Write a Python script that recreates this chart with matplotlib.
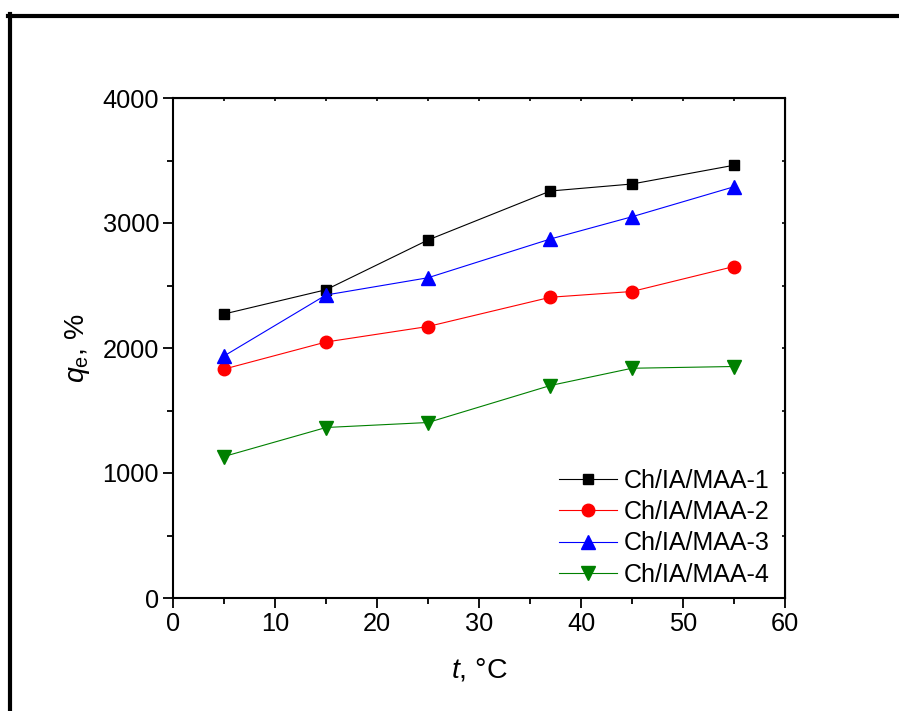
import numpy as np
import matplotlib
matplotlib.use("Agg")
import matplotlib.pyplot as plt
from matplotlib.lines import Line2D
from matplotlib.ticker import MultipleLocator

plt.rcParams['font.family'] = ['Liberation Sans', 'DejaVu Sans']
plt.rcParams['mathtext.fontset'] = 'custom'
plt.rcParams['mathtext.rm'] = 'Liberation Sans'
plt.rcParams['mathtext.it'] = 'Liberation Sans:italic'

# temperature, degC
temps = [5, 15, 25, 37, 45, 55]

# swelling degree q_e, %
maa_1 = [2272, 2466, 2864, 3256, 3312, 3462]
maa_2 = [1831, 2048, 2172, 2406, 2452, 2652]
maa_3 = [1936, 2424, 2562, 2872, 3050, 3290]
maa_4 = [1132, 1364, 1404, 1700, 1838, 1852]

labels = ['Ch/IA/MAA-1', 'Ch/IA/MAA-2', 'Ch/IA/MAA-3', 'Ch/IA/MAA-4']

fig = plt.figure(figsize=(8.99, 7.11), dpi=100)
ax = fig.add_axes([173/899, 1 - 598/711, (785 - 173)/899, (598 - 98)/711])

ax.plot(temps, maa_1, color='black', lw=0.8, marker='s', ms=7.5, label=labels[0])
ax.plot(temps, maa_2, color='red', lw=0.8, marker='o', ms=9, label=labels[1])
ax.plot(temps, maa_3, color='blue', lw=0.8, marker='^', ms=10, label=labels[2])
ax.plot(temps, maa_4, color='green', lw=0.8, marker='v', ms=10, label=labels[3])

ax.set_xlim(0, 60)
ax.set_ylim(0, 4000)
ax.xaxis.set_major_locator(MultipleLocator(10))
ax.xaxis.set_minor_locator(MultipleLocator(5))
ax.yaxis.set_major_locator(MultipleLocator(1000))
ax.yaxis.set_minor_locator(MultipleLocator(500))

for s in ax.spines.values():
    s.set_linewidth(1.5)
ax.tick_params(which='major', direction='out', length=7, width=1.3, labelsize=18.3, pad=3)
ax.tick_params(which='minor', direction='out', length=4, width=1.3)

# small inward ticks on top and right
top = ax.secondary_xaxis('top')
top.xaxis.set_major_locator(MultipleLocator(5))
top.tick_params(direction='in', length=2.5, width=1.2, labelsize=0, labeltop=False)
right = ax.secondary_yaxis('right')
right.yaxis.set_major_locator(MultipleLocator(500))
right.tick_params(direction='in', length=2.5, width=1.2, labelsize=0, labelright=False)

ax.set_xlabel(r'$t$, °C', fontsize=20.5, labelpad=15)
ax.set_ylabel(r'$q_\mathregular{e}$, %', fontsize=20.5, labelpad=8)

ax.legend(loc='lower right', bbox_to_anchor=(1.0, -0.008), frameon=False,
          fontsize=18, handlelength=2.3, handletextpad=0.3, labelspacing=0.3,
          borderaxespad=0.2)

# outer frame lines
fig.add_artist(Line2D([8/899, 1], [1 - 16/711, 1 - 16/711], transform=fig.transFigure, color='black', lw=3))
fig.add_artist(Line2D([10/899, 10/899], [0, 1 - 14/711], transform=fig.transFigure, color='black', lw=3))

fig.savefig('out.png', dpi=100)
